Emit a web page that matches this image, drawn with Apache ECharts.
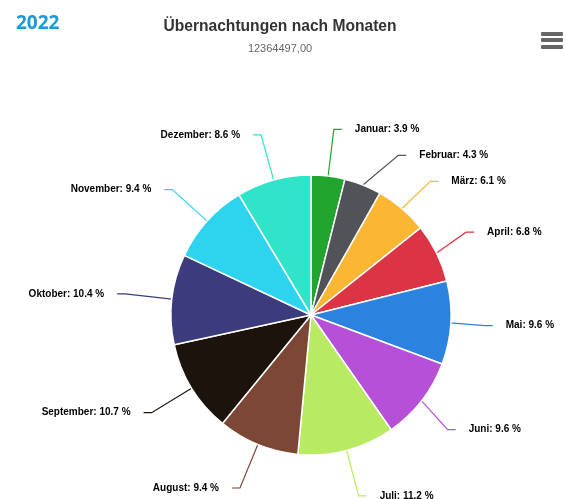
<!DOCTYPE html>
<html>
<head>
<meta charset="utf-8">
<script src="https://cdn.jsdelivr.net/npm/echarts@6/dist/echarts.min.js"></script>
<style>
  html, body { margin: 0; padding: 0; background: #fff; }
  #main { width: 566px; height: 499px; }
</style>
</head>
<body>
<div id="main"></div>
<script>
// Daten: Anteil der Übernachtungen je Monat (%)
var months = ['Januar', 'Februar', 'März', 'April', 'Mai', 'Juni',
              'Juli', 'August', 'September', 'Oktober', 'November', 'Dezember'];
var shares = [3.9, 4.3, 6.1, 6.8, 9.6, 9.6, 11.2, 9.4, 10.7, 10.4, 9.4, 8.6];
var colors = ['#21a52f', '#515359', '#fbb733', '#db3445', '#2c83df', '#b650d8',
              '#b8ea63', '#7d4736', '#1b130c', '#3c3b7c', '#2ed3ee', '#2fe4c8'];
var yearLabel = '2022';
var chartTitle = 'Übernachtungen nach Monaten';
var totalText = '12364497,00';

var font = 'Liberation Sans, Arial, sans-serif';

var chart = echarts.init(document.getElementById('main'));

var pieData = months.map(function (m, i) {
    return { name: m, value: shares[i] };
});

var option = {
    backgroundColor: '#fff',
    color: colors,
    animation: false,
    title: [{
        text: yearLabel,
        left: 11,
        top: 9,
        textStyle: { color: '#1b9ad8', fontSize: 19, fontWeight: 'bold', fontFamily: 'Open Sans, sans-serif' }
    }, {
        text: chartTitle,
        subtext: totalText,
        left: 275,
        top: 14,
        textAlign: 'center',
        itemGap: 8,
        textStyle: { color: '#333', fontSize: 15.6, fontWeight: 'bold', fontFamily: font },
        subtextStyle: { color: '#666', fontSize: 11, fontFamily: font }
    }],
    graphic: [
        // Menü-Symbol oben rechts
        { type: 'rect', left: 541, top: 32, shape: { width: 22, height: 4, r: 1 }, style: { fill: '#666' } },
        { type: 'rect', left: 541, top: 38, shape: { width: 22, height: 4, r: 1 }, style: { fill: '#666' } },
        { type: 'rect', left: 541, top: 45, shape: { width: 22, height: 4, r: 1 }, style: { fill: '#666' } }
    ],
    series: [{
        type: 'pie',
        // Layout-Box unten über den Rand hinaus, damit Juli/August nicht hochgeschoben werden
        left: 0,
        top: 0,
        width: 566,
        height: 580,
        center: [311, 315],
        radius: 140,
        startAngle: 90,
        clockwise: true,
        data: pieData,
        itemStyle: { borderColor: '#fff', borderWidth: 1.5 },
        label: {
            show: true,
            formatter: '{b}: {c} %',
            color: '#000',
            fontSize: 10,
            lineHeight: 24,
            fontWeight: 'bold',
            fontFamily: font,
            distanceToLabelLine: 13
        },
        labelLine: {
            show: true,
            length: 47,
            length2: 8,
            lineStyle: { width: 1.2 }
        }
    }]
};

chart.setOption(option);
</script>
</body>
</html>
